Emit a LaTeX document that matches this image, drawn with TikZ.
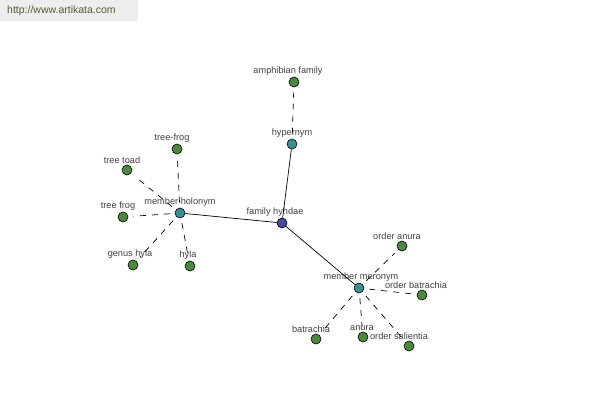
\documentclass[tikz,border=0pt]{standalone}
\usepackage{fontspec}
\setmainfont{Liberation Sans}
\begin{document}
\begin{tikzpicture}[x=1pt,y=-1pt,
  vtx/.style={circle,draw=black,line width=0.6pt,minimum size=10pt,inner sep=0pt},
  leaf/.style={vtx,fill=leafgreen},
  hub/.style={vtx,fill=hubteal},
  root/.style={vtx,fill=rootblue},
  lbl/.style={font=\fontsize{9.2}{10}\selectfont,text=black!75,inner sep=1pt,label distance=0pt},
  rel/.style={draw=black,line width=0.7pt},
  weak/.style={draw=black,line width=0.7pt,dash pattern=on 6pt off 6pt,shorten <=5pt,shorten >=5pt}]
\definecolor{leafgreen}{HTML}{4A8A3C}
\definecolor{hubteal}{HTML}{3A9090}
\definecolor{rootblue}{HTML}{4848A0}
\useasboundingbox (0,0) rectangle (600,400);
\fill[white] (0,0) rectangle (600,400);
\fill[black!7] (0,0) rectangle (138,21);
\node[anchor=west,inner sep=0pt,font=\fontsize{10.5}{12}\selectfont,text={rgb,255:red,80;green,95;blue,50}] (wm) at (7,11) {http://www.artikata.com};

\node[root,label={[lbl,xshift=-7pt]above:family hyhdae}] (fam) at (282,223) {};
\node[hub,label={[lbl]above:hypernym}] (hyp) at (292,144) {};
\node[leaf,label={[lbl,xshift=-6pt]above:amphibian family}] (amph) at (294,82) {};
\node[hub,label={[lbl]above:member holonym}] (hol) at (180,213) {};
\node[leaf,label={[lbl,xshift=-5pt]above:tree-frog}] (tf1) at (177,149) {};
\node[leaf,label={[lbl,xshift=-5pt]above:tree toad}] (tt) at (127,170) {};
\node[leaf,label={[lbl,xshift=-5pt]above:tree frog}] (tf2) at (123,217) {};
\node[leaf,label={[lbl,xshift=-3pt]above:genus hyla}] (gh) at (133,265) {};
\node[leaf,label={[lbl,xshift=-2pt]above:hyla}] (hy) at (190,266) {};
\node[hub,label={[lbl,xshift=2pt]above:member meronym}] (mer) at (359,288) {};
\node[leaf,label={[lbl,xshift=-5pt]above:order anura}] (oa) at (402,246) {};
\node[leaf,label={[lbl,xshift=-6pt]above:order batrachia}] (ob) at (422,295) {};
\node[leaf,label={[lbl,xshift=-5pt]above:batrachia}] (ba) at (316,339) {};
\node[leaf,label={[lbl,xshift=-1pt]above:anura}] (an) at (363,337) {};
\node[leaf,label={[lbl,xshift=-10pt]above:order salientia}] (os) at (409,346) {};

\draw[rel] (fam) -- (hyp);
\draw[rel] (fam) -- (hol);
\draw[rel] (fam) -- (mer);
\draw[weak] (hyp) -- (amph);
\foreach \t in {tf1,tt,tf2,gh,hy} \draw[weak] (hol) -- (\t);
\foreach \t in {oa,ob,ba,an,os} \draw[weak] (mer) -- (\t);
\end{tikzpicture}
\end{document}
